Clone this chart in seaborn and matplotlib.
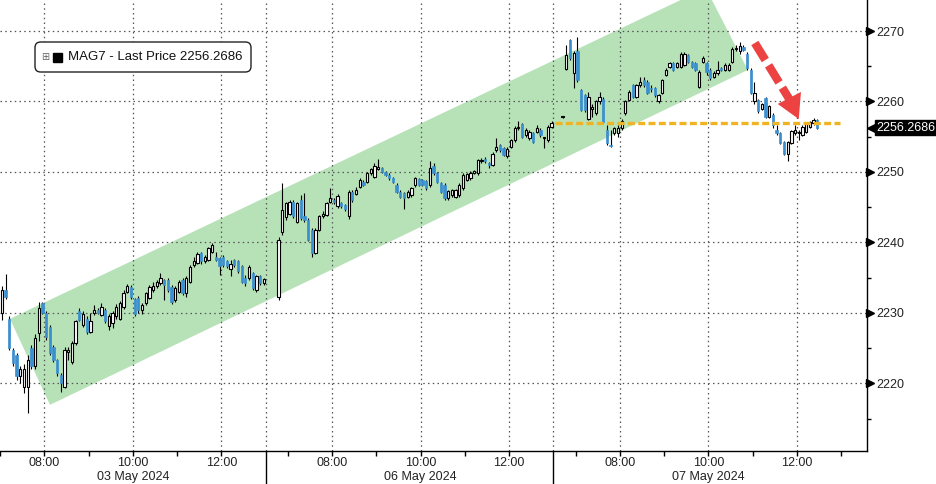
import numpy as np
import pandas as pd
import seaborn as sns
import matplotlib.pyplot as plt
import matplotlib.transforms as mtransforms
from matplotlib.patches import Polygon, FancyBboxPatch, Rectangle

# 5-minute candles; one x unit = one 5-minute slot
day_starts = [0, 72, 150]          # first slot of each session on the axis
day_open_hour = [7.0, 6.5, 6.5]    # clock time at the first slot
day_first = [0, 3, 2]              # first slot that has a candle
day_names = ['03 May 2024', '06 May 2024', '07 May 2024']

d1_open = [2230.0, 2233.3, 2229.2, 2224.8, 2224.0, 2221.0, 2219.5, 2219.5, 2225.0, 2222.4,
           2227.1, 2231.4, 2230.0, 2228.0, 2225.2, 2223.3, 2221.2, 2219.5, 2224.4, 2223.1,
           2225.7, 2230.2, 2228.3, 2229.2, 2227.3, 2230.0, 2230.4, 2229.7, 2230.4, 2228.1,
           2228.5, 2229.5, 2229.2, 2230.9, 2232.9, 2233.7, 2231.9, 2232.1, 2230.4, 2231.4,
           2232.1, 2233.3, 2233.8, 2234.2, 2234.7, 2234.7, 2233.7, 2231.8, 2233.0, 2234.7,
           2232.8, 2234.4, 2236.8, 2237.1, 2238.5, 2237.3, 2237.5, 2238.7, 2238.0, 2237.8,
           2238.0, 2237.3, 2236.2, 2237.5, 2237.3, 2236.6, 2234.9, 2234.9, 2235.6, 2233.3,
           2235.2, 2234.2]
d1_high = [2233.8, 2235.5, 2229.5, 2225.0, 2224.3, 2222.5, 2222.8, 2224.0, 2225.5, 2227.0,
           2231.6, 2231.6, 2230.3, 2228.3, 2225.5, 2223.5, 2221.5, 2225.2, 2225.2, 2226.0,
           2229.0, 2230.7, 2230.3, 2229.5, 2230.0, 2231.1, 2230.7, 2231.4, 2230.7, 2229.8,
           2230.3, 2231.2, 2231.7, 2233.2, 2234.1, 2234.0, 2232.1, 2232.4, 2231.4, 2233.0,
           2234.0, 2234.4, 2234.6, 2235.6, 2234.8, 2234.9, 2233.9, 2233.8, 2234.7, 2235.0,
           2235.2, 2236.8, 2238.0, 2238.6, 2238.7, 2238.2, 2239.4, 2239.9, 2238.7, 2238.0,
           2238.2, 2237.5, 2237.5, 2237.7, 2237.5, 2236.8, 2235.4, 2236.8, 2235.8, 2235.4,
           2235.4, 2235.0]
d1_low = [2229.0, 2232.0, 2224.8, 2222.5, 2220.5, 2220.0, 2218.6, 2215.8, 2222.0, 2222.0,
          2226.0, 2229.8, 2226.2, 2224.0, 2223.0, 2221.0, 2218.8, 2219.3, 2223.3, 2222.8,
          2225.5, 2228.8, 2228.0, 2227.0, 2227.1, 2229.7, 2229.8, 2229.5, 2228.5, 2227.6,
          2227.8, 2229.2, 2229.0, 2230.6, 2232.8, 2232.0, 2229.6, 2230.0, 2229.8, 2231.1,
          2231.9, 2233.0, 2233.6, 2234.0, 2231.8, 2233.0, 2231.2, 2231.6, 2232.8, 2232.5,
          2232.3, 2234.2, 2236.5, 2237.0, 2237.0, 2237.1, 2237.3, 2238.5, 2237.3, 2235.4,
          2236.5, 2236.3, 2235.2, 2236.5, 2235.7, 2234.2, 2233.8, 2234.7, 2233.3, 2233.0,
          2234.0, 2234.0]
d1_close = [2233.3, 2232.3, 2225.0, 2222.9, 2221.0, 2222.0, 2222.0, 2223.3, 2222.4, 2226.5,
            2230.7, 2230.0, 2226.6, 2224.3, 2223.3, 2221.4, 2220.0, 2224.8, 2224.8, 2225.7,
            2228.8, 2229.0, 2229.9, 2227.3, 2228.8, 2230.4, 2230.0, 2230.9, 2228.8, 2229.5,
            2230.0, 2230.9, 2231.4, 2232.8, 2233.8, 2232.3, 2229.9, 2230.4, 2231.1, 2232.8,
            2233.7, 2233.8, 2234.4, 2234.9, 2233.9, 2233.3, 2231.6, 2233.5, 2234.4, 2232.8,
            2234.9, 2236.5, 2237.3, 2238.4, 2237.3, 2237.9, 2239.2, 2239.7, 2237.5, 2236.6,
            2236.8, 2236.6, 2237.0, 2236.8, 2235.9, 2234.4, 2234.2, 2236.5, 2233.5, 2235.3,
            2234.2, 2234.8]

d2_open = [2232.2, 2241.5, 2243.6, 2244.1, 2245.8, 2242.9, 2246.0, 2243.7, 2243.2, 2241.8,
           2238.5, 2241.8, 2243.7, 2243.9, 2245.8, 2246.0, 2245.1, 2245.6, 2245.3, 2243.7,
           2247.2, 2246.9, 2247.9, 2248.6, 2248.6, 2249.8, 2249.3, 2250.4, 2250.5, 2250.05,
           2249.6, 2249.1, 2248.2, 2247.2, 2247.0, 2246.5, 2246.7, 2248.2, 2249.0, 2248.9,
           2248.7, 2248.2, 2250.8, 2249.8, 2248.4, 2248.2, 2246.3, 2246.7, 2246.5, 2246.7,
           2247.7, 2248.9, 2249.1, 2249.9, 2249.8, 2251.5, 2251.9, 2251.2, 2251.0, 2253.1,
           2253.8, 2253.4, 2252.2, 2253.6, 2254.5, 2256.2, 2256.8, 2255.2, 2254.8, 2255.5,
           2255.7, 2256.0, 2254.8, 2254.5, 2256.4]
d2_high = [2240.8, 2248.4, 2245.8, 2246.0, 2246.0, 2245.8, 2246.7, 2247.0, 2243.4, 2242.0,
           2242.0, 2243.9, 2244.4, 2245.8, 2247.7, 2246.3, 2246.8, 2245.8, 2245.5, 2247.4,
           2247.4, 2247.8, 2249.1, 2248.9, 2250.0, 2250.6, 2251.2, 2251.8, 2250.7, 2250.2,
           2249.8, 2249.3, 2248.4, 2247.4, 2247.2, 2247.4, 2247.9, 2249.3, 2249.2, 2249.0,
           2248.9, 2251.5, 2251.2, 2250.0, 2248.6, 2248.4, 2247.5, 2247.6, 2247.6, 2248.4,
           2249.8, 2249.9, 2250.1, 2250.3, 2251.9, 2252.0, 2252.1, 2251.4, 2252.8, 2254.8,
           2254.0, 2253.6, 2253.5, 2254.7, 2256.5, 2257.2, 2257.0, 2256.2, 2255.9, 2255.7,
           2256.7, 2256.2, 2255.0, 2256.6, 2257.3]
d2_low = [2231.8, 2241.0, 2243.2, 2243.9, 2243.5, 2242.7, 2243.2, 2242.9, 2240.2, 2238.0,
          2238.3, 2241.6, 2243.4, 2243.7, 2245.6, 2245.5, 2244.9, 2244.9, 2244.5, 2243.3,
          2245.8, 2246.7, 2247.7, 2248.0, 2248.4, 2249.6, 2249.1, 2250.3, 2249.9, 2249.4,
          2248.9, 2248.4, 2247.0, 2246.3, 2244.8, 2246.3, 2246.5, 2247.9, 2248.0, 2248.0,
          2247.4, 2247.9, 2249.6, 2248.4, 2247.0, 2246.0, 2246.0, 2246.5, 2246.3, 2246.5,
          2247.5, 2248.7, 2248.9, 2249.7, 2249.6, 2251.3, 2251.3, 2250.6, 2250.8, 2252.9,
          2252.9, 2252.2, 2252.0, 2253.4, 2254.3, 2255.9, 2254.8, 2255.0, 2254.6, 2254.1,
          2255.5, 2255.0, 2253.4, 2254.3, 2256.2]
d2_close = [2240.4, 2244.6, 2245.6, 2245.8, 2243.7, 2245.6, 2243.4, 2243.2, 2240.4, 2238.5,
            2241.8, 2243.7, 2244.1, 2245.6, 2246.3, 2245.8, 2246.6, 2245.1, 2244.8, 2247.2,
            2246.0, 2247.5, 2248.9, 2248.2, 2249.8, 2250.4, 2250.85, 2250.7, 2250.05, 2249.6,
            2249.1, 2248.6, 2247.2, 2246.5, 2246.3, 2247.2, 2247.7, 2249.2, 2248.2, 2248.2,
            2247.7, 2250.6, 2249.8, 2248.6, 2247.2, 2246.3, 2247.3, 2247.4, 2247.4, 2248.2,
            2249.6, 2249.7, 2249.9, 2250.1, 2251.7, 2251.7, 2251.5, 2251.0, 2252.6, 2253.6,
            2253.1, 2252.4, 2253.3, 2254.5, 2256.3, 2256.4, 2255.0, 2256.0, 2255.7, 2254.3,
            2256.2, 2255.2, 2254.9, 2256.4, 2257.0]

d3_open = [2257.8, 2264.6, 2268.7, 2264.0, 2267.1, 2261.6, 2260.9, 2257.5, 2259.0, 2258.3,
           2260.0, 2260.4, 2256.0, 2253.8, 2255.5, 2255.5, 2256.2, 2258.3, 2260.2, 2262.3,
           2260.7, 2262.3, 2263.0, 2262.8, 2261.9, 2261.9, 2260.0, 2261.2, 2263.8, 2264.9,
           2265.4, 2264.9, 2264.9, 2265.2, 2266.6, 2265.6, 2265.4, 2262.1, 2265.6, 2265.4,
           2264.5, 2263.5, 2264.0, 2264.7, 2264.5, 2264.5, 2265.6, 2267.4, 2267.1, 2267.8,
           2266.8, 2264.5, 2260.0, 2260.2, 2259.0, 2260.5, 2257.8, 2258.1, 2256.0, 2255.5,
           2254.2, 2252.6, 2254.1, 2255.5, 2255.5, 2255.3, 2255.7, 2256.4, 2256.9, 2257.4]
d3_high = [2257.9, 2268.0, 2268.8, 2267.1, 2269.2, 2261.8, 2261.1, 2261.4, 2259.7, 2260.2,
           2261.4, 2260.6, 2256.7, 2256.0, 2256.4, 2256.7, 2257.5, 2260.2, 2261.6, 2262.5,
           2262.5, 2263.5, 2263.5, 2263.0, 2262.3, 2262.1, 2261.1, 2263.2, 2264.7, 2265.6,
           2265.6, 2265.6, 2267.0, 2267.0, 2266.8, 2265.8, 2265.6, 2264.4, 2266.4, 2265.6,
           2264.7, 2264.3, 2265.7, 2264.9, 2265.4, 2265.4, 2267.7, 2268.0, 2268.4, 2268.0,
           2267.0, 2264.7, 2262.8, 2260.4, 2259.8, 2260.7, 2259.5, 2258.3, 2256.7, 2255.7,
           2254.4, 2254.4, 2256.0, 2256.6, 2255.9, 2256.6, 2257.1, 2257.3, 2257.6, 2257.5]
d3_low = [2257.7, 2264.5, 2265.9, 2261.9, 2262.8, 2258.6, 2258.5, 2257.4, 2257.8, 2258.1,
          2259.7, 2256.9, 2253.8, 2253.6, 2255.3, 2255.0, 2256.0, 2258.1, 2260.0, 2260.5,
          2260.5, 2262.1, 2262.1, 2261.0, 2261.4, 2260.7, 2259.8, 2261.0, 2263.6, 2264.7,
          2264.3, 2264.7, 2264.7, 2265.0, 2265.4, 2264.7, 2264.3, 2261.9, 2265.4, 2263.8,
          2263.1, 2263.3, 2263.8, 2264.3, 2264.3, 2264.3, 2265.4, 2267.1, 2266.8, 2267.1,
          2264.5, 2261.0, 2259.7, 2258.4, 2258.8, 2257.6, 2257.6, 2256.3, 2255.3, 2253.9,
          2252.4, 2251.6, 2253.9, 2255.3, 2254.5, 2255.1, 2255.5, 2256.2, 2256.7, 2256.1]
d3_close = [2257.9, 2266.6, 2266.1, 2266.9, 2263.0, 2258.8, 2258.8, 2260.7, 2259.2, 2260.0,
            2260.7, 2257.1, 2254.1, 2253.7, 2256.2, 2256.3, 2257.3, 2260.0, 2261.4, 2260.7,
            2262.3, 2262.8, 2262.3, 2261.2, 2261.7, 2260.9, 2260.9, 2263.0, 2264.5, 2265.4,
            2264.5, 2265.4, 2266.8, 2266.8, 2265.6, 2264.9, 2264.5, 2264.2, 2266.2, 2264.2,
            2263.3, 2264.1, 2264.5, 2264.5, 2265.2, 2265.2, 2267.5, 2267.6, 2267.9, 2267.3,
            2264.7, 2261.2, 2261.2, 2258.6, 2259.6, 2257.8, 2259.3, 2256.7, 2255.5, 2254.1,
            2252.6, 2254.2, 2255.8, 2256.0, 2255.7, 2256.4, 2256.9, 2257.1, 2257.4, 2256.27]

last_price = 2256.2686
level_price = 2257.0
y_ticks = [2220, 2230, 2240, 2250, 2260, 2270]
label_hours = [8, 10, 12]

# trend channel and arrow (slot, price)
channel = [(2.7, 2229.15), (13.55, 2216.95), (202.7, 2264.47), (191.3, 2276.1)]
arrow_tail = (204.6, 2268.3)
arrow_base = (214.1, 2260.2)
arrow_head = [(210.8, 2259.65), (217.1, 2261.35), (216.5, 2257.5)]
level_span = (150.4, 227.6)

sessions = [
    (d1_open, d1_high, d1_low, d1_close),
    (d2_open, d2_high, d2_low, d2_close),
    (d3_open, d3_high, d3_low, d3_close),
]
frames = []
for start, first, (o, h, l, c) in zip(day_starts, day_first, sessions):
    frames.append(pd.DataFrame({'slot': start + first + np.arange(len(o)),
                                'open': o, 'high': h, 'low': l, 'close': c}))
df = pd.concat(frames, ignore_index=True)
df['x'] = df['slot'] + 0.5
df['up'] = df['close'] >= df['open']

sns.set_style('white')
plt.rcParams['font.family'] = ['Liberation Sans', 'DejaVu Sans']

fig = plt.figure(figsize=(9.36, 4.84), dpi=100)
ax = fig.add_axes([0, 1 - 451 / 484, 867 / 936, 451 / 484])
ax.set_xlim(0, 235)
ax.set_ylim(2210.4, 2274.4)

ax.add_patch(Polygon(channel, closed=True, fc='#b7e2b8', ec='none', zorder=0))

# grid
grid_x = []
for start, h0 in zip(day_starts, day_open_hour):
    grid_x += [start + (h - h0) * 12 for h in label_hours]
grid_x += day_starts[1:]
for gx in grid_x:
    ax.axvline(gx, color='#555555', lw=0.9, ls=(0, (1.2, 2.6)), zorder=1)
for gy in y_ticks:
    ax.axhline(gy, color='#555555', lw=0.9, ls=(0, (1.2, 2.6)), zorder=1)

# candles
blue = '#3a8fd0'
ax.vlines(df['x'], df['low'], df['high'], color='black', lw=0.8, zorder=3)
body = (df['close'] - df['open']).abs().clip(lower=0.12)
bottom = df[['open', 'close']].min(axis=1)
up = df['up']
ax.bar(df['x'][up], body[up], bottom=bottom[up], width=0.62,
       color='white', edgecolor='black', lw=0.8, zorder=4)
ax.bar(df['x'][~up], body[~up], bottom=bottom[~up], width=0.62,
       color=blue, edgecolor=blue, lw=0.5, zorder=4)

# level line and arrow
sns.lineplot(x=list(level_span), y=[level_price, level_price], ax=ax, color='#f0b323',
             lw=2.4, linestyle=(0, (2.1, 1.0)), zorder=5)
ax.plot([arrow_tail[0], arrow_base[0]], [arrow_tail[1], arrow_base[1]], color='#ec4242',
        lw=6, ls=(0, (2.4, 0.75)), dash_capstyle='butt', zorder=6)
ax.add_patch(Polygon(arrow_head, closed=True, fc='#ec4242', ec='none', zorder=6))

# spines
for s in ['top', 'left']:
    ax.spines[s].set_visible(False)
for s in ['bottom', 'right']:
    ax.spines[s].set_color('black')
    ax.spines[s].set_linewidth(1)

# y axis on the right
ax.yaxis.tick_right()
ax.set_yticks(y_ticks)
ax.set_yticks([v + 5 for v in y_ticks[:-1]] + [2215], minor=True)
ax.tick_params(axis='y', which='major', length=0, pad=6.5, labelsize=9, colors='#222222')
ax.tick_params(axis='y', which='minor', length=3, width=1, color='black', right=True)
trans_y = mtransforms.blended_transform_factory(ax.transAxes, ax.transData)
off = mtransforms.ScaledTranslation(3 / 100, 0, fig.dpi_scale_trans)
ax.plot(np.ones(len(y_ticks)), y_ticks, ls='none', marker='>', ms=5.5, color='black',
        transform=trans_y + off, clip_on=False, zorder=7)

# last price tag
ax.plot([1], [last_price], ls='none', marker='<', ms=7, color='black',
        transform=trans_y + mtransforms.ScaledTranslation(5 / 100, 0, fig.dpi_scale_trans),
        clip_on=False, zorder=7)
ax.text(1, last_price, f'{last_price:.4f}', color='white', fontsize=9, va='center', ha='left',
        transform=trans_y + mtransforms.ScaledTranslation(9 / 100, 0, fig.dpi_scale_trans),
        bbox=dict(boxstyle='square,pad=0.12', fc='black', ec='black'), zorder=8)

# x axis: hourly ticks, labels at even hours, dates below
major_x, major_lab, minor_x = [], [], []
for start, h0, nxt in zip(day_starts, day_open_hour, day_starts[1:] + [235]):
    for h in range(7, 14):
        pos = start + (h - h0) * 12
        if pos < start or pos >= nxt:
            continue
        if h in label_hours:
            major_x.append(pos)
            major_lab.append(f'{h:02d}:00')
        else:
            minor_x.append(pos)
ax.set_xticks(major_x)
ax.set_xticklabels(major_lab)
ax.set_xticks(minor_x, minor=True)
ax.tick_params(axis='x', which='both', length=3.5, width=1, color='black', bottom=True,
               pad=1, labelsize=9, colors='#222222')
trans_x = mtransforms.blended_transform_factory(ax.transData, ax.transAxes)
for start, h0, name in zip(day_starts, day_open_hour, day_names):
    ax.text(start + (10 - h0) * 12, -26 / 451, name, transform=trans_x, ha='center',
            va='center', fontsize=9, color='#222222')
for start in day_starts[1:]:
    ax.plot([start, start], [0, -33 / 451], color='black', lw=1, transform=trans_x,
            clip_on=False)

# legend box
fig.add_artist(FancyBboxPatch((35 / 936, 1 - 72 / 484), 216 / 936, 30 / 484,
                              boxstyle='round,pad=0,rounding_size=0.006',
                              mutation_aspect=936 / 484, transform=fig.transFigure,
                              fc='white', ec='#222222', lw=1, zorder=10))
fig.text(45.5 / 936, 1 - 57 / 484, '\u229e', fontsize=7, color='#666666', ha='center',
         va='center', family='DejaVu Sans', zorder=11)
fig.add_artist(Rectangle((53 / 936, 1 - 62 / 484), 9 / 936, 9 / 484, transform=fig.transFigure,
                         fc='black', ec='black', zorder=11))
fig.text(68 / 936, 1 - 57 / 484, f'MAG7 - Last Price {last_price:.4f}', fontsize=9.5,
         color='#111111', ha='left', va='center', zorder=11)

fig.savefig('out.png', dpi=100, facecolor='white')
